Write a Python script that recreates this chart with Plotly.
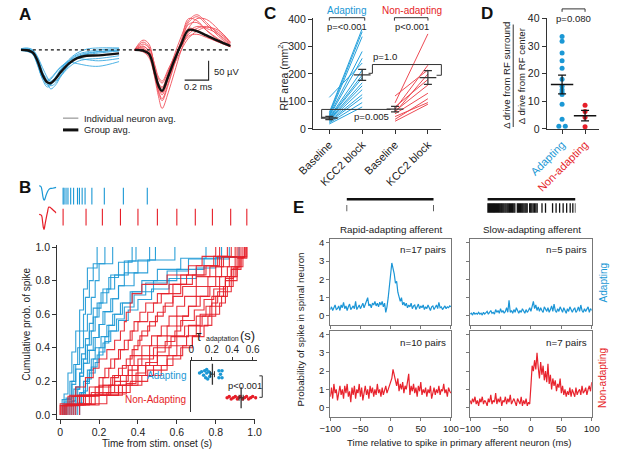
import plotly.graph_objects as go

W, H = 617, 457
FONT = "Liberation Sans, Arial, sans-serif"
BOLDF = "Liberation Sans, Arial, sans-serif"
BLUE = "#1b98d5"
RED = "#e61e28"
LBLUE = "#3aaae2"
LRED = "#f0505a"
AX = "#333333"
TXT = "#222222"
TS = 9.6      # general text size
TK = 10.5     # tick label size

# ---------------- DATA ----------------
# Panel A: spike waveforms (time in ms, amplitude in microvolts)
A_T_ADAPT = [0, 0.05, 0.1, 0.14, 0.18, 0.22, 0.25, 0.29, 0.33, 0.4, 0.47, 0.55, 0.65, 0.82]
A_MEAN_ADAPT = [0, -1, -7, -29, -63, -83, -85, -74, -58, -35, -21, -15, -14, -9]
A_IND_ADAPT = [
    [0, 2, -3, -20, -55, -85, -100, -90, -70, -40, -20, -10, -5, 0],
    [0, 0, -5, -35, -75, -95, -90, -72, -52, -28, -12, -5, 0, 3],
    [0, -3, -12, -40, -72, -80, -75, -60, -45, -28, -22, -25, -28, -22],
    [3, 5, 0, -18, -45, -70, -82, -80, -68, -45, -30, -24, -22, -15],
    [0, -2, -8, -30, -68, -90, -88, -70, -50, -25, -8, 2, 5, 5],
    [-2, -4, -10, -38, -70, -78, -72, -58, -44, -32, -35, -40, -42, -30],
    [2, 3, -2, -25, -60, -82, -92, -85, -66, -38, -18, -12, -8, -3],
    [0, 0, -6, -28, -58, -74, -80, -70, -55, -30, -15, -8, -4, -2],
]
A_T_NON = [0.95, 1.02, 1.07, 1.12, 1.15, 1.18, 1.23, 1.28, 1.34, 1.40, 1.47, 1.55, 1.65, 1.75]
A_MEAN_NON = [0, -2, -10, -60, -92, -105, -68, -28, 15, 51, 48, 37, 23, 10]
A_IND_NON = [
    [0, 25, 15, -60, -110, -130, -90, -40, 20, 70, 85, 65, 35, 10],
    [0, 10, -5, -75, -120, -150, -110, -60, 0, 45, 60, 55, 40, 15],
    [0, 5, -12, -55, -85, -95, -60, -15, 35, 75, 90, 70, 40, 12],
    [0, -5, -20, -70, -100, -105, -65, -25, 10, 40, 55, 60, 45, 18],
    [0, 15, 5, -40, -70, -80, -50, -18, 20, 55, 50, 35, 20, 8],
    [0, 0, -8, -65, -105, -125, -85, -35, 20, 65, 70, 50, 28, 10],
    [0, -3, -15, -50, -75, -85, -55, -22, 10, 35, 40, 32, 20, 8],
    [0, 20, 8, -45, -95, -115, -75, -30, 25, 80, 75, 50, 25, 8],
    [0, 2, -10, -62, -88, -98, -70, -38, 0, 30, 48, 58, 50, 20],
    [0, 8, -2, -58, -95, -110, -72, -28, 15, 55, 80, 78, 52, 18],
]
SCALE_MS = 0.2
SCALE_UV = 50
SCALE_T0 = 1.568
SCALE_V0 = -77.5

# Panel B: example rasters (s) and spike times per neuron (s)
B_RASTER_ADAPT = [0.015, 0.02, 0.03, 0.04, 0.054, 0.069, 0.089, 0.099, 0.113, 0.128, 0.163, 0.227, 0.325, 0.448]
B_RASTER_NON = [0.015, 0.133, 0.217, 0.31, 0.4, 0.5, 0.6, 0.695, 0.783, 0.877, 0.96]
B_SPIKES_ADAPT = [
    [0.02, 0.04, 0.06, 0.08, 0.1, 0.12, 0.14, 0.19],
    [0.03, 0.05, 0.07, 0.09, 0.1, 0.12, 0.13, 0.15, 0.17, 0.23],
    [0.04, 0.06, 0.08, 0.1, 0.12, 0.14, 0.16, 0.18, 0.2, 0.27],
    [0.01, 0.06, 0.08, 0.11, 0.13, 0.15, 0.17, 0.21, 0.25, 0.3, 0.37],
    [0.05, 0.08, 0.1, 0.12, 0.13, 0.15, 0.17, 0.19, 0.22, 0.26, 0.33, 0.39],
    [0.06, 0.08, 0.1, 0.11, 0.14, 0.16, 0.18, 0.2, 0.24, 0.28, 0.35, 0.46],
    [0.02, 0.07, 0.1, 0.12, 0.15, 0.18, 0.2, 0.23, 0.27, 0.3, 0.33, 0.4, 0.49],
    [0.08, 0.09, 0.1, 0.12, 0.14, 0.17, 0.2, 0.22, 0.26, 0.3, 0.38, 0.45, 0.59],
    [0.1, 0.11, 0.13, 0.15, 0.17, 0.2, 0.23, 0.25, 0.28, 0.32, 0.36, 0.42, 0.5, 0.62, 0.75],
    [0.09, 0.12, 0.14, 0.16, 0.19, 0.22, 0.25, 0.29, 0.33, 0.38, 0.44, 0.55, 0.66, 0.87],
    [0.03, 0.1, 0.12, 0.14, 0.16, 0.18, 0.21, 0.24, 0.27, 0.31, 0.37, 0.48, 0.6, 0.74, 0.83],
    [0.07, 0.1, 0.13, 0.15, 0.18, 0.2, 0.23, 0.26, 0.3, 0.35, 0.4, 0.47, 0.56, 0.7, 0.8, 0.92],
]
B_SPIKES_NON = [
    [0.01, 0.04, 0.08, 0.13, 0.17, 0.2, 0.24, 0.28, 0.31, 0.33, 0.34, 0.36, 0.37, 0.42, 0.55, 0.66, 0.73, 0.8],
    [0.02, 0.06, 0.15, 0.2, 0.23, 0.26, 0.3, 0.33, 0.36, 0.38, 0.41, 0.44, 0.5, 0.56, 0.62, 0.7, 0.79, 0.82],
    [0.05, 0.1, 0.18, 0.22, 0.25, 0.28, 0.31, 0.35, 0.37, 0.4, 0.45, 0.48, 0.52, 0.58, 0.65, 0.74, 0.82, 0.86],
    [0.0, 0.07, 0.2, 0.26, 0.3, 0.34, 0.37, 0.4, 0.42, 0.46, 0.5, 0.54, 0.58, 0.62, 0.68, 0.75, 0.81, 0.88],
    [0.03, 0.12, 0.22, 0.27, 0.32, 0.36, 0.38, 0.41, 0.45, 0.49, 0.53, 0.58, 0.63, 0.7, 0.77, 0.83, 0.9],
    [0.01, 0.09, 0.2, 0.28, 0.35, 0.38, 0.42, 0.47, 0.52, 0.56, 0.6, 0.64, 0.7, 0.76, 0.8, 0.84, 0.91],
    [0.04, 0.15, 0.25, 0.31, 0.37, 0.42, 0.46, 0.5, 0.55, 0.6, 0.66, 0.7, 0.76, 0.8, 0.83, 0.87, 0.92],
    [0.06, 0.1, 0.26, 0.34, 0.4, 0.46, 0.5, 0.55, 0.6, 0.63, 0.66, 0.72, 0.77, 0.82, 0.86, 0.9, 0.93],
    [0.02, 0.2, 0.3, 0.37, 0.44, 0.5, 0.56, 0.6, 0.64, 0.7, 0.75, 0.78, 0.82, 0.85, 0.88, 0.92, 0.95],
    [0.08, 0.13, 0.32, 0.4, 0.48, 0.55, 0.6, 0.65, 0.7, 0.73, 0.77, 0.8, 0.84, 0.87, 0.9, 0.94, 0.96],
    [0.03, 0.05, 0.3, 0.42, 0.52, 0.58, 0.63, 0.68, 0.72, 0.76, 0.8, 0.83, 0.86, 0.89, 0.91, 0.93, 0.95],
    [0.1, 0.24, 0.36, 0.45, 0.55, 0.62, 0.68, 0.74, 0.78, 0.82, 0.85, 0.88, 0.91, 0.93, 0.96],
    [0.0, 0.16, 0.28, 0.35, 0.4, 0.48, 0.57, 0.66, 0.72, 0.78, 0.81, 0.85, 0.88, 0.91, 0.94],
    [0.07, 0.18, 0.34, 0.39, 0.44, 0.5, 0.54, 0.59, 0.62, 0.69, 0.74, 0.79, 0.85, 0.89, 0.92, 0.95],
]
TAU_ADAPT = [0.08, 0.10, 0.12, 0.13, 0.14, 0.15, 0.15, 0.16, 0.17, 0.18, 0.19, 0.27, 0.27, 0.285, 0.30, 0.30]
TAU_ADAPT_JIT = [0.05, 0.1, -0.05, 0.15, -0.15, 0.05, 0.2, -0.2, 0.1, -0.1, 0.02, 0.15, -0.15, 0, 0.15, -0.15]
TAU_NON = [0.35, 0.37, 0.39, 0.41, 0.43, 0.45, 0.46, 0.48, 0.5, 0.52, 0.54, 0.56, 0.58, 0.6, 0.63]
TAU_NON_JIT = [0, 0.05, -0.05, 0, 0.05, -0.05, 0, 0.05, -0.05, 0, 0.05, -0.05, 0, 0.05, 0]
TAU_MEAN = [0.206, 0.487]
TAU_SEM = [0.02, 0.02]

# Panel C: RF area (mm^2)
C_CATS = ["Baseline", "KCC2 block", "Baseline", "KCC2 block"]
C_ADAPT_BASE = [115, 60, 55, 50, 48, 45, 42, 40, 38, 35, 33, 30, 28, 25, 22, 18]
C_ADAPT_KCC2 = [240, 365, 354, 336, 282, 257, 214, 196, 186, 168, 157, 143, 125, 114, 96, 80]
C_NON_BASE = [120, 95, 80, 72, 65, 60, 55, 45, 35, 28]
C_NON_KCC2 = [215, 346, 180, 232, 160, 200, 130, 96, 110, 90]
C_MEAN = [40, 197, 72, 187]
C_SEM = [6, 20, 10, 25]

# Panel D: surround/center drive ratio
D_CATS = ["Adapting", "Non-adapting"]
D_ADAPT = [33.5, 31.8, 27.5, 24.7, 22, 18, 15.5, 14.2, 13.3, 12.5, 9, 3.5, 1, 1]
D_ADAPT_OFF = [0, 0, 0, 0, 0, 0, 0, 0, 0, 0, 0, 0, -0.14, 0.14]
D_NON = [8.6, 6.3, 4.2, 0.8]
D_MEAN = [16.1, 4.8]
D_SEM = [3.4, 1.9]

# Panel E: cross-correlograms (bins in ms)
E_T = list(range(-100, 101, 2))
E_RAPID_ADAPT = [
    0.35, 0.5, 0.3, 0.45, 0.6, 0.35, 0.4, 0.55, 0.3, 0.6,
    0.45, 0.75, 0.4, 0.55, 0.3, 0.5, 0.65, 0.35, 0.45, 0.55,
    0.4, 0.8, 0.35, 0.5, 0.6, 0.4, 0.55, 0.7, 0.45, 0.6,
    0.75, 1.0, 0.55, 0.65, 0.45, 0.7, 0.6, 0.8, 0.55, 0.7,
    0.5, 0.75, 0.6, 0.8, 0.5, 0.7, 0.2, 0.5, 1.0, 1.6,
    2.2, 2.9, 2.6, 2.3, 1.8, 1.9, 1.3, 1.1, 0.8, 1.0,
    0.6, 0.75, 0.55, 0.7, 0.45, 0.6, 0.5, 0.7, 0.4, 0.55,
    0.6, 0.35, 0.5, 0.65, 0.4, 0.55, 0.45, 0.6, 0.35, 0.5,
    0.4, 0.6, 0.45, 0.3, 0.5, 0.55, 0.35, 0.45, 0.6, 0.4,
    0.75, 0.45, 0.5, 0.35, 0.45, 0.55, 0.4, 0.5, 0.45, 0.55,
    0.5]
E_SLOW_ADAPT = [
    0.1, 0.15, 0.05, 0.2, 0.1, 0.15, 0.1, 0.2, 0.1, 0.15,
    0.05, 0.2, 0.1, 0.15, 0.25, 0.1, 0.2, 0.3, 0.15, 0.2,
    0.1, 0.35, 0.2, 0.3, 0.15, 0.4, 0.2, 0.3, 0.15, 0.25,
    0.45, 0.2, 0.85, 0.2, 0.3, 0.15, 0.35, 0.2, 0.45, 0.25,
    0.15, 0.3, 0.2, 0.4, 0.25, 0.15, 0.35, 0.2, 0.3, 0.45,
    0.25, 0.55, 0.8, 0.4, 0.6, 0.3, 0.5, 0.25, 0.45, 0.3,
    0.2, 0.5, 0.35, 0.25, 0.45, 0.2, 0.35, 0.55, 0.25, 0.65,
    0.3, 0.2, 0.4, 0.25, 0.5, 0.3, 0.2, 0.45, 0.3, 0.15,
    0.4, 0.25, 0.5, 0.3, 0.2, 0.35, 0.45, 0.2, 0.3, 0.5,
    0.25, 0.6, 0.3, 0.2, 0.4, 0.25, 0.35, 0.5, 0.2, 0.4,
    0.3]
E_RAPID_NON = [
    0.6, 1.1, 0.5, 1.3, 0.8, 1.0, 0.4, 0.9, 1.2, 0.7,
    1.0, 0.5, 1.2, 0.8, 1.3, 0.6, 0.9, 0.3, 1.1, 0.7,
    1.2, 0.5, 1.0, 0.8, 1.3, 0.6, 1.1, 0.4, 0.9, 1.2,
    0.7, 1.0, 0.5, 1.2, 0.8, 1.1, 0.6, 1.0, 0.7, 1.3,
    0.8, 1.0, 0.6, 1.1, 0.7, 0.9, 1.2, 0.8, 1.0, 1.3,
    1.4, 1.6, 2.1, 1.7, 1.5, 1.2, 1.6, 0.9, 1.3, 1.0,
    1.4, 0.8, 1.2, 1.0, 1.5, 1.85, 0.7, 1.2, 0.9, 1.3,
    0.8, 1.1, 0.6, 1.2, 0.9, 1.4, 0.7, 1.0, 0.8, 1.1,
    0.6, 1.0, 0.8, 1.2, 0.5, 0.9, 1.1, 0.7, 1.0, 0.8,
    1.2, 0.7, 1.0, 0.9, 1.3, 0.8, 1.0, 0.6, 1.1, 0.9,
    0.8]
E_SLOW_NON = [
    0.4, 0.2, 0.5, 0.3, 0.6, 0.2, 0.4, 0.1, 0.5, 0.3,
    0.6, 0.2, 0.4, 0.3, 0.1, 0.5, 0.3, 0.7, 0.2, 0.4,
    0.3, 0.8, 0.2, 0.5, 0.3, 0.6, 0.1, 0.4, 0.3, 0.6,
    0.2, 0.5, 0.3, 0.7, 0.2, 0.4, 0.5, 0.3, 0.1, 0.5,
    0.3, 0.2, 0.6, 0.1, 0.4, 0.2, 0.5, 0.1, 0.3, 0.2,
    1.2, 2.3, 2.0, 2.6, 2.1, 3.0, 2.2, 1.6, 2.5, 1.8,
    2.3, 1.5, 2.0, 1.4, 2.4, 1.3, 1.8, 1.0, 1.6, 1.2,
    1.5, 0.9, 1.3, 1.1, 1.6, 0.8, 1.2, 0.7, 1.0, 0.6,
    0.9, 0.7, 1.1, 0.6, 1.0, 0.8, 0.6, 1.1, 0.7, 0.9,
    1.0, 0.7, 1.2, 0.8, 0.9, 1.1, 0.7, 1.0, 1.2, 0.9,
    1.4]
E_STIM = [0.0, 1.0]
E_RAPID_SPIKES = [0.0, 1.0]
E_SLOW_SPIKES = [0, 0.012, 0.024, 0.035, 0.047, 0.058, 0.07, 0.08, 0.092, 0.104, 0.116, 0.128,
                 0.14, 0.152, 0.163, 0.175, 0.187, 0.2, 0.212, 0.225, 0.237, 0.25, 0.262, 0.275,
                 0.287, 0.3, 0.312, 0.34, 0.352, 0.365, 0.377, 0.39, 0.402, 0.415, 0.428, 0.44,
                 0.452, 0.48, 0.492, 0.505, 0.52, 0.535, 0.55, 0.565, 0.62, 0.66, 0.74, 0.78,
                 0.82, 0.86, 0.9, 0.94, 0.97, 1.0]

# ---------------- helpers ----------------
def px(x):
    return x / W


def py(y):
    return 1 - y / H


def dom_x(a, b):
    return [a / W, b / W]


def dom_y(top, bottom):
    return [1 - bottom / H, 1 - top / H]


def xa(n):
    return "x" if n == 1 else f"x{n}"


def ya(n):
    return "y" if n == 1 else f"y{n}"


layout = dict(width=W, height=H, margin=dict(l=0, r=0, t=0, b=0),
              paper_bgcolor="white", plot_bgcolor="rgba(0,0,0,0)",
              font=dict(family=FONT, size=TS, color=TXT), showlegend=False)

BASE = dict(showgrid=False, zeroline=False, fixedrange=True)
HIDDEN = dict(visible=False)
VIS = dict(visible=True, showline=True, linecolor=AX, linewidth=1.2, ticks="outside",
           ticklen=4, tickwidth=1, tickcolor=AX, tickfont=dict(size=TK, color=TXT))


def add_axes(n, xdom, ydom, xr, yr, xkw=None, ykw=None):
    kx = "xaxis" if n == 1 else f"xaxis{n}"
    ky = "yaxis" if n == 1 else f"yaxis{n}"
    layout[kx] = dict(domain=dom_x(*xdom), range=xr, anchor=ya(n), **BASE, **(xkw or HIDDEN))
    layout[ky] = dict(domain=dom_y(*ydom), range=yr, anchor=xa(n), **BASE, **(ykw or HIDDEN))


traces = []


def line(n, x, y, color, width=1.0, shape="linear", dash=None, opacity=1.0):
    traces.append(go.Scatter(x=x, y=y, xaxis=xa(n), yaxis=ya(n), mode="lines",
                             line=dict(color=color, width=width, shape=shape, dash=dash),
                             opacity=opacity, hoverinfo="skip", showlegend=False))


def raster(n, times, y0, y1, color, width=1.2):
    xs, ys = [], []
    for t in times:
        xs += [t, t, None]
        ys += [y0, y1, None]
    line(n, xs, ys, color, width)


# ---------------- Panel A ----------------
add_axes(1, (3, 225), (5, 112), [0, 1.776], [-165, 102.5])
for w in A_IND_ADAPT:
    line(1, A_T_ADAPT, w, LBLUE, 0.9, "spline")
for w in A_IND_NON:
    line(1, A_T_NON, w, LRED, 0.9, "spline")
line(1, [A_T_ADAPT[0], A_T_NON[-1]], [0, 0], "#111", 1.2, dash="dot")
line(1, A_T_ADAPT, A_MEAN_ADAPT, "#111", 2.4, "spline")
line(1, A_T_NON, A_MEAN_NON, "#111", 2.4, "spline")
line(1, [SCALE_T0 - SCALE_MS, SCALE_T0, SCALE_T0], [SCALE_V0, SCALE_V0, SCALE_V0 + SCALE_UV], "#222", 1.1)

# ---------------- Panel B ----------------
B_X = (41, 247)
B_XR = [-0.015, 1.0]
add_axes(2, (22, 40), (184, 201), [A_T_ADAPT[0], A_T_ADAPT[-1]], [-92, 8])
line(2, A_T_ADAPT, A_MEAN_ADAPT, BLUE, 1.2, "spline")
add_axes(3, (22, 40), (206, 231), [A_T_NON[0], A_T_NON[-1]], [-112, 58])
line(3, A_T_NON, A_MEAN_NON, RED, 1.2, "spline")
add_axes(4, B_X, (185, 228), B_XR, [0, 2])
raster(4, B_RASTER_ADAPT, 1.1, 1.9, BLUE, 1.1)
raster(4, B_RASTER_NON, 0.1, 0.9, RED, 1.1)

add_axes(5, B_X, (246, 424), B_XR, [-0.023, 1.0116],
         dict(**VIS, tickvals=[0, 0.2, 0.4, 0.6, 0.8, 1.0],
              ticktext=["0", "0.2", "0.4", "0.6", "0.8", "1.0"]),
         dict(**VIS, tickvals=[0, 0.2, 0.4, 0.6, 0.8, 1.0],
              ticktext=["0.0", "0.2", "0.4", "0.6", "0.8", "1.0"]))


def cum_xy(times):
    n = len(times)
    xs = [times[0]] + list(times)
    ys = [0] + [(k + 1) / n for k in range(n)]
    return xs, ys


for sp in B_SPIKES_ADAPT:
    x, y = cum_xy(sp)
    line(5, x, y, BLUE, 1.1, "hv", opacity=0.9)
for sp in B_SPIKES_NON:
    x, y = cum_xy(sp)
    line(5, x, y, RED, 1.1, "hv", opacity=0.9)

# inset
add_axes(6, (181, 250), (365, 417), [0, 0.647], [-0.6, 1.55],
         dict(visible=True, showline=True, linecolor=AX, linewidth=1, side="top", ticks="outside",
              ticklen=3, tickcolor=AX, tickvals=[0, 0.2, 0.4, 0.6], ticktext=["0", "0.2", "0.4", "0.6"],
              tickfont=dict(size=10, color=TXT)),
         dict(visible=True, showline=True, linecolor=AX, linewidth=1, showticklabels=False, ticks=""))
traces.append(go.Scatter(x=TAU_ADAPT, y=[1 + j for j in TAU_ADAPT_JIT], xaxis="x6", yaxis="y6",
                         mode="markers", marker=dict(color=BLUE, size=3.5), hoverinfo="skip"))
traces.append(go.Scatter(x=TAU_NON, y=[0 + j for j in TAU_NON_JIT], xaxis="x6", yaxis="y6",
                         mode="markers", marker=dict(color=RED, size=3.5), hoverinfo="skip"))
traces.append(go.Scatter(x=TAU_MEAN, y=[1, 0], xaxis="x6", yaxis="y6", mode="markers",
                         marker=dict(symbol="line-ns-open", size=15, color=AX, line=dict(color=AX, width=1.3)),
                         error_x=dict(type="data", array=TAU_SEM, color=AX, thickness=1, width=3),
                         hoverinfo="skip"))

# ---------------- Panel C ----------------
C_POS = [0, 1, 2, 3]
add_axes(7, (308, 442), (13, 127), [-0.496, 3.41], [0, 405],
         dict(**{**VIS, "tickfont": dict(size=11, color=TXT)}, tickvals=C_POS, ticktext=C_CATS, tickangle=-45),
         dict(**VIS, tickvals=[0, 100, 200, 300, 400]))
xs, ys = [], []
for b, k in zip(C_ADAPT_BASE, C_ADAPT_KCC2):
    xs += [C_POS[0], C_POS[1], None]
    ys += [b, k, None]
line(7, xs, ys, "#26a2dd", 1.0)
xs, ys = [], []
for b, k in zip(C_NON_BASE, C_NON_KCC2):
    xs += [C_POS[2], C_POS[3], None]
    ys += [b, k, None]
line(7, xs, ys, "#ee4a54", 1.0)
traces.append(go.Scatter(x=C_POS, y=C_MEAN, xaxis="x7", yaxis="y7", mode="markers",
                         marker=dict(symbol="line-ew-open", size=12, color=AX, line=dict(color=AX, width=1.4)),
                         error_y=dict(type="data", array=C_SEM, color=AX, thickness=1.2, width=4),
                         hoverinfo="skip"))

# ---------------- Panel D ----------------
add_axes(8, (552, 607), (13, 127), [-0.667, 1.625], [0, 40.35],
         dict(**{**VIS, "tickfont": dict(size=11, color=TXT)}, tickvals=[0, 1], tickangle=-45,
              ticktext=[f"<span style='color:{BLUE}'>{D_CATS[0]}</span>",
                        f"<span style='color:{RED}'>{D_CATS[1]}</span>"]),
         dict(**VIS, tickvals=[0, 10, 20, 30, 40]))
traces.append(go.Scatter(x=[0 + o for o in D_ADAPT_OFF], y=D_ADAPT, xaxis="x8", yaxis="y8",
                         mode="markers", marker=dict(color=BLUE, size=5), hoverinfo="skip"))
traces.append(go.Scatter(x=[1] * len(D_NON), y=D_NON, xaxis="x8", yaxis="y8",
                         mode="markers", marker=dict(color=RED, size=5), hoverinfo="skip"))
traces.append(go.Scatter(x=[0, 1], y=D_MEAN, xaxis="x8", yaxis="y8", mode="markers",
                         marker=dict(symbol="line-ew-open", size=16, color="#111", line=dict(color="#111", width=1.5)),
                         error_y=dict(type="data", array=D_SEM, color="#111", thickness=1.2, width=4),
                         hoverinfo="skip"))

# ---------------- Panel E ----------------
add_axes(9, (343, 434), (196, 214), [0, 1], [0, 1])
line(9, E_STIM, [0.83, 0.83], "#111", 2.5)
raster(9, E_RAPID_SPIKES, 0.15, 0.5, "#111", 1.3)
add_axes(10, (490, 582), (196, 214), [0, 1], [0, 1])
line(10, E_STIM, [0.83, 0.83], "#111", 2.5)
raster(10, E_SLOW_SPIKES, 0.06, 0.6, "#111", 1.3)

EAX = dict(visible=True, showline=True, linecolor="#777", linewidth=1, mirror=True, ticks="outside",
           ticklen=3, tickcolor="#777", tickfont=dict(size=9.5, color=TXT))
EX = [-100, -50, 0, 50, 100]
EY = [0, 1, 2, 3, 4]
cells = [
    (11, (326, 452), (240, 328), E_RAPID_ADAPT, "#1b95d6", False, True),
    (12, (472, 599), (240, 328), E_SLOW_ADAPT, "#1b95d6", False, False),
    (13, (326, 452), (334, 422), E_RAPID_NON, "#e8232d", True, True),
    (14, (472, 599), (334, 422), E_SLOW_NON, "#e8232d", True, False),
]
for n, xd, yd, vals, col, xlab, ylab in cells:
    add_axes(n, xd, yd, [-100, 100], [-0.5, 4.2],
             dict(**EAX, tickvals=EX, showticklabels=xlab),
             dict(**EAX, tickvals=EY, showticklabels=ylab))
    line(n, E_T, vals, col, 1.2)

# ---------------- annotations & shapes ----------------
anns = []


def ann(text, x, y, size=TS, color=TXT, xanchor="center", angle=0, bold=False):
    anns.append(dict(text=text, x=px(x), y=py(y), xref="paper", yref="paper", showarrow=False,
                     xanchor=xanchor, yanchor="middle", textangle=angle,
                     font=dict(size=size, color=color, family=BOLDF if bold else FONT)))


shapes = []


def seg(pts, color=AX, width=1.0):
    d = "M " + " L ".join(f"{px(x):.5f} {py(y):.5f}" for x, y in pts)
    shapes.append(dict(type="path", path=d, xref="paper", yref="paper",
                       line=dict(color=color, width=width)))


# panel letters
for letter, x, y in [("A", 7, 10), ("B", 7, 187), ("C", 263, 9), ("D", 490, 9), ("E", 293, 207)]:
    ann(f"<b>{letter}</b>", x, y, size=17, color="#111", bold=True)

# A legend & scale text
seg([(47, 116), (63, 116)], "#b0b0b0", 1.6)
seg([(47, 128), (63, 128)], "#111", 3)
ann("Individual neuron avg.", 67, 116, 9.4, xanchor="left")
ann("Group avg.", 67, 128, 9.4, xanchor="left")
ann("50 µV", 203, 68, 9.4, xanchor="left")
ann("0.2 ms", 188, 84, 9.4)

# B texts
ann("Cumulative prob. of spike", 9, 327, 10, angle=-90)
ann("Time from stim. onset (s)", 145, 449, 10)
ann("τ", 189, 339, 14)
ann("adaptation", 194, 342, 7, xanchor="left")
ann("(s)", 230, 339, 13, xanchor="left")
ann("Adapting", 177, 380, 10, BLUE, xanchor="right")
ann("Non-Adapting", 177, 404, 10, RED, xanchor="right")
ann("p<0.001", 237, 390, 9.4)
seg([(252, 380), (255, 380), (255, 402), (252, 402)])

# C texts
ann("Adapting", 343, 6, 10, BLUE)
ann("Non-adapting", 411, 6, 10, RED)
ann("p=<0.001", 343, 22, 9.4)
ann("p<0.001", 411, 22, 9.4)
seg([(325, 16), (325, 13), (362, 13), (362, 16)])
seg([(393, 16), (393, 13), (428, 13), (428, 16)])
ann("p=1.0", 383, 53, 9.6)
seg([(366, 70), (370, 70), (370, 61), (442, 61), (442, 72), (437, 72)])
ann("p=0.005", 369, 114, 9.6)
seg([(321, 115), (317, 115), (317, 107), (389, 107)])
ann("RF area (mm<sup>2</sup>)", 276, 73, 10.5, angle=-90)

# D texts
ann("p=0.080", 580, 14, 9.6)
seg([(568, 7), (568, 4), (592, 4), (592, 7)])
ann("Δ drive from RF surround", 510, 72, 9.6, angle=-90)
ann("Δ drive from RF center", 525, 72, 9.6, angle=-90)
seg([(517, 20), (517, 125)], "#333", 1)

# E texts
ann("Rapid-adapting afferent", 389, 230, 9.8)
ann("Slow-adapting afferent", 537, 230, 9.8)
ann("n=17 pairs", 449, 251, 9.8, xanchor="right")
ann("n=5 pairs", 596, 251, 9.8, xanchor="right")
ann("n=10 pairs", 449, 346, 9.8, xanchor="right")
ann("n=7 pairs", 596, 346, 9.8, xanchor="right")
ann("Adapting", 611, 285, 10, BLUE, angle=-90)
ann("Non-adapting", 611, 382, 10, RED, angle=-90)
ann("Probability of spike in spinal neuron", 295, 333, 9.8, angle=-90)
ann("Time relative to spike in primary afferent neuron (ms)", 460, 448, 9.6)

layout["annotations"] = anns
layout["shapes"] = shapes

fig = go.Figure(data=traces, layout=layout)
fig.write_html("out.html", config={"displayModeBar": False},
               post_script="document.body.style.margin='0';document.body.style.overflow='hidden';")
